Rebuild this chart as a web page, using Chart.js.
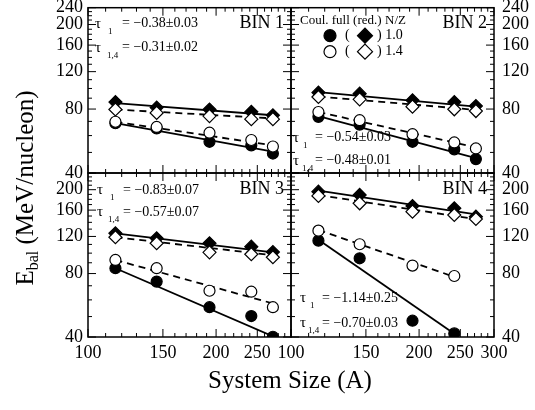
<!DOCTYPE html>
<html>
<head>
<meta charset="utf-8">
<script src="https://cdn.jsdelivr.net/npm/chart.js@4.4.0/dist/chart.umd.min.js"></script>
<style>
  html, body { margin: 0; padding: 0; background: #fff; }
  #wrap { position: relative; width: 535px; height: 410px; }
  #wrap canvas { position: absolute; left: 0; top: 0; }
</style>
</head>
<body>
<div id="wrap">
  <canvas id="bin1" width="535" height="410"></canvas>
  <canvas id="bin2" width="535" height="410"></canvas>
  <canvas id="bin3" width="535" height="410"></canvas>
  <canvas id="bin4" width="535" height="410"></canvas>
</div>
<script>
// ── E_bal vs system size, four impact-parameter bins ──

const FONT = "'Liberation Serif', 'DejaVu Serif', serif";

const sizeA = [116, 145, 193, 242, 272];

const xTickVals  = [100, 150, 200, 250, 300];
const xMinorVals = [110, 120, 130, 140, 160, 170, 180, 190, 210, 220, 230, 240, 260, 270, 280, 290];
const yTickVals  = [40, 80, 120, 160, 200, 240];
const yMinorVals = [50, 60, 70, 90, 100, 110, 130, 140, 150, 170, 180, 190, 210, 220, 230];

// order in every bin: full N/Z 1.0, red. N/Z 1.0, full N/Z 1.4, red. N/Z 1.4
const bin1Pts = [
  [68.6, 64.8, 56.1, 54.0, 49.4],
  [86.3, 81.3, 79.6, 77.6, 74.8],
  [69.7, 65.9, 61.9, 57.2, 53.3],
  [79.6, 76.7, 74.1, 71.7, 71.7]
];
const bin1Fit = [[68.6, 50.4], [85.3, 74.8], [69.7, 54.0], [79.6, 72.3]];

const bin2Pts = [
  [73.5, 67.6, 56.1, 51.7, 46.5],
  [95.6, 94.5, 87.9, 86.3, 82.7],
  [77.5, 70.9, 60.9, 55.7, 52.2],
  [91.2, 88.9, 82.1, 79.8, 78.3]
];
const bin2Fit = [[74.1, 47.0], [96.2, 82.1], [77.5, 52.8], [91.6, 79.3]];

const bin3Pts = [
  [84.8, 73.3, 55.4, 50.3, 40.1],
  [124.2, 117.6, 111.4, 107.3, 101.2],
  [92.8, 84.8, 66.3, 65.6, 55.4],
  [119.0, 111.4, 100.9, 98.8, 95.6]
];
const bin3Fit = [[84.8, 40.3], [124.2, 100.9], [92.8, 57.7], [119.0, 97.8]];

const bin4Pts = [
  [114.6, 94.5, 47.8, 41.6],
  [195.7, 188.8, 167.4, 163.3, 149.0],
  [127.8, 110.2, 87.3, 77.9],
  [186.8, 172.4, 157.3, 151.7, 145.2]
];
const bin4Fit = [[115.7, 41.4], [198.0, 152.8], [128.8, 77.2], [188.8, 144.8]];

const marks = [
  { style: 'circle',  r: 5.5, fill: '#000' },
  { style: 'rectRot', r: 6.5, fill: '#000' },
  { style: 'circle',  r: 5.5, fill: '#fff' },
  { style: 'rectRot', r: 6.5, fill: '#fff' }
];

function buildDatasets(pts, fit) {
  const sets = [];
  pts.forEach((vals, i) => {
    const xs = sizeA.slice(0, vals.length);
    sets.push({
      data: xs.map((a, k) => ({ x: a, y: vals[k] })),
      pointStyle: marks[i].style, pointRadius: marks[i].r, pointHoverRadius: marks[i].r,
      backgroundColor: marks[i].fill, borderColor: '#000', pointBorderWidth: 1.2,
      showLine: false, order: i < 2 ? 2 : 1
    });
    // power-law fit, straight on log-log
    sets.push({
      data: [{ x: xs[0], y: fit[i][0] }, { x: xs[xs.length - 1], y: fit[i][1] }],
      showLine: true, pointRadius: 0, borderColor: '#000', borderWidth: 1.8,
      borderDash: i < 2 ? [] : [7, 5], order: 5
    });
  });
  return sets;
}

function zeroPad(s) {
  s.paddingLeft = 0; s.paddingRight = 0; s.paddingTop = 0; s.paddingBottom = 0;
}

function drawTau(ctx, a, row) {
  ctx.textAlign = 'left';
  ctx.textBaseline = 'middle';
  ctx.font = '15px ' + FONT;
  ctx.fillText('τ', a.left + row.x, a.top + row.y);
  ctx.font = '9px ' + FONT;
  ctx.fillText(row.sub, a.left + row.subX, a.top + row.y + 8);
  ctx.font = '14px ' + FONT;
  ctx.fillText(row.text, a.left + row.eqX, a.top + row.y);
}

function drawMark(ctx, kind, fill, x, y, r) {
  ctx.beginPath();
  if (kind === 'circle') ctx.arc(x, y, r, 0, Math.PI * 2);
  else { ctx.moveTo(x - r, y); ctx.lineTo(x, y - r); ctx.lineTo(x + r, y); ctx.lineTo(x, y + r); ctx.closePath(); }
  ctx.fillStyle = fill; ctx.fill();
  ctx.lineWidth = 1.2; ctx.strokeStyle = '#000'; ctx.stroke();
}

function drawLegend(ctx, a) {
  const x0 = a.left, y0 = a.top;
  ctx.fillStyle = '#000';
  ctx.textAlign = 'left'; ctx.textBaseline = 'middle';
  ctx.font = '13px ' + FONT;
  ctx.fillText('Coul. full (red.)', x0 + 9, y0 + 13);
  ctx.fillText('N/Z', x0 + 94, y0 + 13);
  [{ y: 28, fill: '#000', tag: ') 1.0' }, { y: 44, fill: '#fff', tag: ') 1.4' }].forEach(row => {
    drawMark(ctx, 'circle', row.fill, x0 + 39, y0 + row.y, 6);
    drawMark(ctx, 'diamond', row.fill, x0 + 74, y0 + row.y, 7.5);
    ctx.fillStyle = '#000';
    ctx.font = '14px ' + FONT;
    ctx.fillText('(', x0 + 54, y0 + row.y);
    ctx.fillText(row.tag, x0 + 86, y0 + row.y);
  });
}

function drawTitles(ctx) {
  ctx.fillStyle = '#000';
  ctx.font = '25px ' + FONT;
  ctx.textAlign = 'center'; ctx.textBaseline = 'middle';
  ctx.fillText('System Size (A)', 290, 381);

  ctx.save();
  ctx.translate(33, 188);
  ctx.rotate(-Math.PI / 2);
  ctx.textAlign = 'left'; ctx.textBaseline = 'alphabetic';
  const big = '25px ' + FONT, small = '16px ' + FONT;
  ctx.font = big;
  const wE = ctx.measureText('E').width;
  const wRest = ctx.measureText(' (MeV/nucleon)').width;
  ctx.font = small;
  const wSub = ctx.measureText('bal').width;
  let x = -(wE + wSub + wRest) / 2;
  ctx.font = big;   ctx.fillText('E', x, 0); x += wE;
  ctx.font = small; ctx.fillText('bal', x, 5); x += wSub;
  ctx.font = big;   ctx.fillText(' (MeV/nucleon)', x, 0);
  ctx.restore();
}

function makeDecor(opt) {
  return {
    id: 'decor',
    afterDraw(chart) {
      const ctx = chart.ctx, a = chart.chartArea;
      const xs = chart.scales.x, ys = chart.scales.y;
      ctx.save();
      // inward ticks on all four sides
      ctx.strokeStyle = '#000';
      ctx.lineWidth = 1;
      ctx.beginPath();
      const xt = (v, len) => {
        const p = xs.getPixelForValue(v);
        ctx.moveTo(p, a.bottom); ctx.lineTo(p, a.bottom - len);
        ctx.moveTo(p, a.top);    ctx.lineTo(p, a.top + len);
      };
      const yt = (v, len) => {
        const p = ys.getPixelForValue(v);
        ctx.moveTo(a.left, p);  ctx.lineTo(a.left + len, p);
        ctx.moveTo(a.right, p); ctx.lineTo(a.right - len, p);
      };
      xMinorVals.forEach(v => xt(v, 4));
      xTickVals.forEach(v => xt(v, 8));
      yMinorVals.forEach(v => yt(v, 4));
      yTickVals.forEach(v => yt(v, 8));
      ctx.stroke();
      ctx.lineWidth = 1.5;
      ctx.strokeRect(a.left, a.top, a.right - a.left, a.bottom - a.top);

      ctx.fillStyle = '#000';
      ctx.font = '18px ' + FONT;
      ctx.textAlign = 'right'; ctx.textBaseline = 'middle';
      ctx.fillText(opt.bin, a.right - 7, a.top + 16);

      opt.taus.forEach(row => drawTau(ctx, a, row));
      if (opt.legend) drawLegend(ctx, a);
      if (opt.titles) drawTitles(ctx);
      ctx.restore();
    }
  };
}

function makePanel(id, opt) {
  const [l, t, r, b] = opt.area;
  const yRight = opt.yPos === 'right';
  const yW = yRight ? 36 : 44;
  const xH = opt.xLabels ? 40 : 0;
  const tickFont = { family: FONT, size: 18 };

  return new Chart(document.getElementById(id), {
    type: 'scatter',
    data: { datasets: buildDatasets(opt.pts, opt.fit) },
    options: {
      responsive: false,
      animation: false,
      events: [],
      layout: { padding: {
        left: yRight ? l : l - yW,
        right: yRight ? 535 - r - yW : 535 - r,
        top: t,
        bottom: 410 - b - xH
      } },
      plugins: { legend: { display: false }, tooltip: { enabled: false } },
      scales: {
        x: {
          type: 'logarithmic', min: 100, max: 300, display: !!opt.xLabels,
          grid: { display: false, drawTicks: false }, border: { display: false },
          afterBuildTicks: s => { s.ticks = (opt.xLabels || []).map(v => ({ value: v })); },
          afterFit: s => { s.height = xH; zeroPad(s); },
          ticks: { autoSkip: false, maxRotation: 0, padding: 5, color: '#000', font: tickFont,
                   callback: v => String(v) }
        },
        y: {
          type: 'logarithmic', min: 40, max: 240, position: opt.yPos,
          grid: { display: false, drawTicks: false }, border: { display: false },
          afterBuildTicks: s => { s.ticks = opt.yLabels.map(v => ({ value: v })); },
          afterFit: s => { s.width = yW; zeroPad(s); },
          ticks: { autoSkip: false, padding: yRight ? 8 : 5, color: '#000', font: tickFont,
                   callback: v => String(v) }
        }
      }
    },
    plugins: [makeDecor(opt)]
  });
}

makePanel('bin1', {
  area: [88, 7, 291, 173], yPos: 'left', pts: bin1Pts, fit: bin1Fit,
  yLabels: [40, 80, 120, 160, 200, 240], xLabels: null, bin: 'BIN 1',
  taus: [
    { x: 7, y: 16, subX: 20, eqX: 34, sub: '1',   text: '= −0.38±0.03' },
    { x: 7, y: 40, subX: 19, eqX: 34, sub: '1,4', text: '= −0.31±0.02' }
  ]
});

makePanel('bin2', {
  area: [291, 7, 494, 173], yPos: 'right', pts: bin2Pts, fit: bin2Fit,
  yLabels: [40, 80, 120, 160, 200, 240], xLabels: null, bin: 'BIN 2', legend: true,
  taus: [
    { x: 2, y: 130, subX: 12, eqX: 24, sub: '1',   text: '= −0.54±0.03' },
    { x: 2, y: 153, subX: 11, eqX: 24, sub: '1,4', text: '= −0.48±0.01' }
  ]
});

makePanel('bin3', {
  area: [88, 173, 291, 337], yPos: 'left', pts: bin3Pts, fit: bin3Fit,
  yLabels: [40, 80, 120, 160, 200], xLabels: [100, 150, 200, 250], bin: 'BIN 3', titles: true,
  taus: [
    { x: 9, y: 17, subX: 22, eqX: 35, sub: '1',   text: '= −0.83±0.07' },
    { x: 9, y: 39, subX: 20, eqX: 35, sub: '1,4', text: '= −0.57±0.07' }
  ]
});

makePanel('bin4', {
  area: [291, 173, 494, 337], yPos: 'right', pts: bin4Pts, fit: bin4Fit,
  yLabels: [40, 80, 120, 160, 200], xLabels: [100, 150, 200, 250, 300], bin: 'BIN 4',
  taus: [
    { x: 9, y: 125, subX: 19, eqX: 31, sub: '1',   text: '= −1.14±0.25' },
    { x: 9, y: 150, subX: 17, eqX: 31, sub: '1,4', text: '= −0.70±0.03' }
  ]
});
</script>
</body>
</html>
